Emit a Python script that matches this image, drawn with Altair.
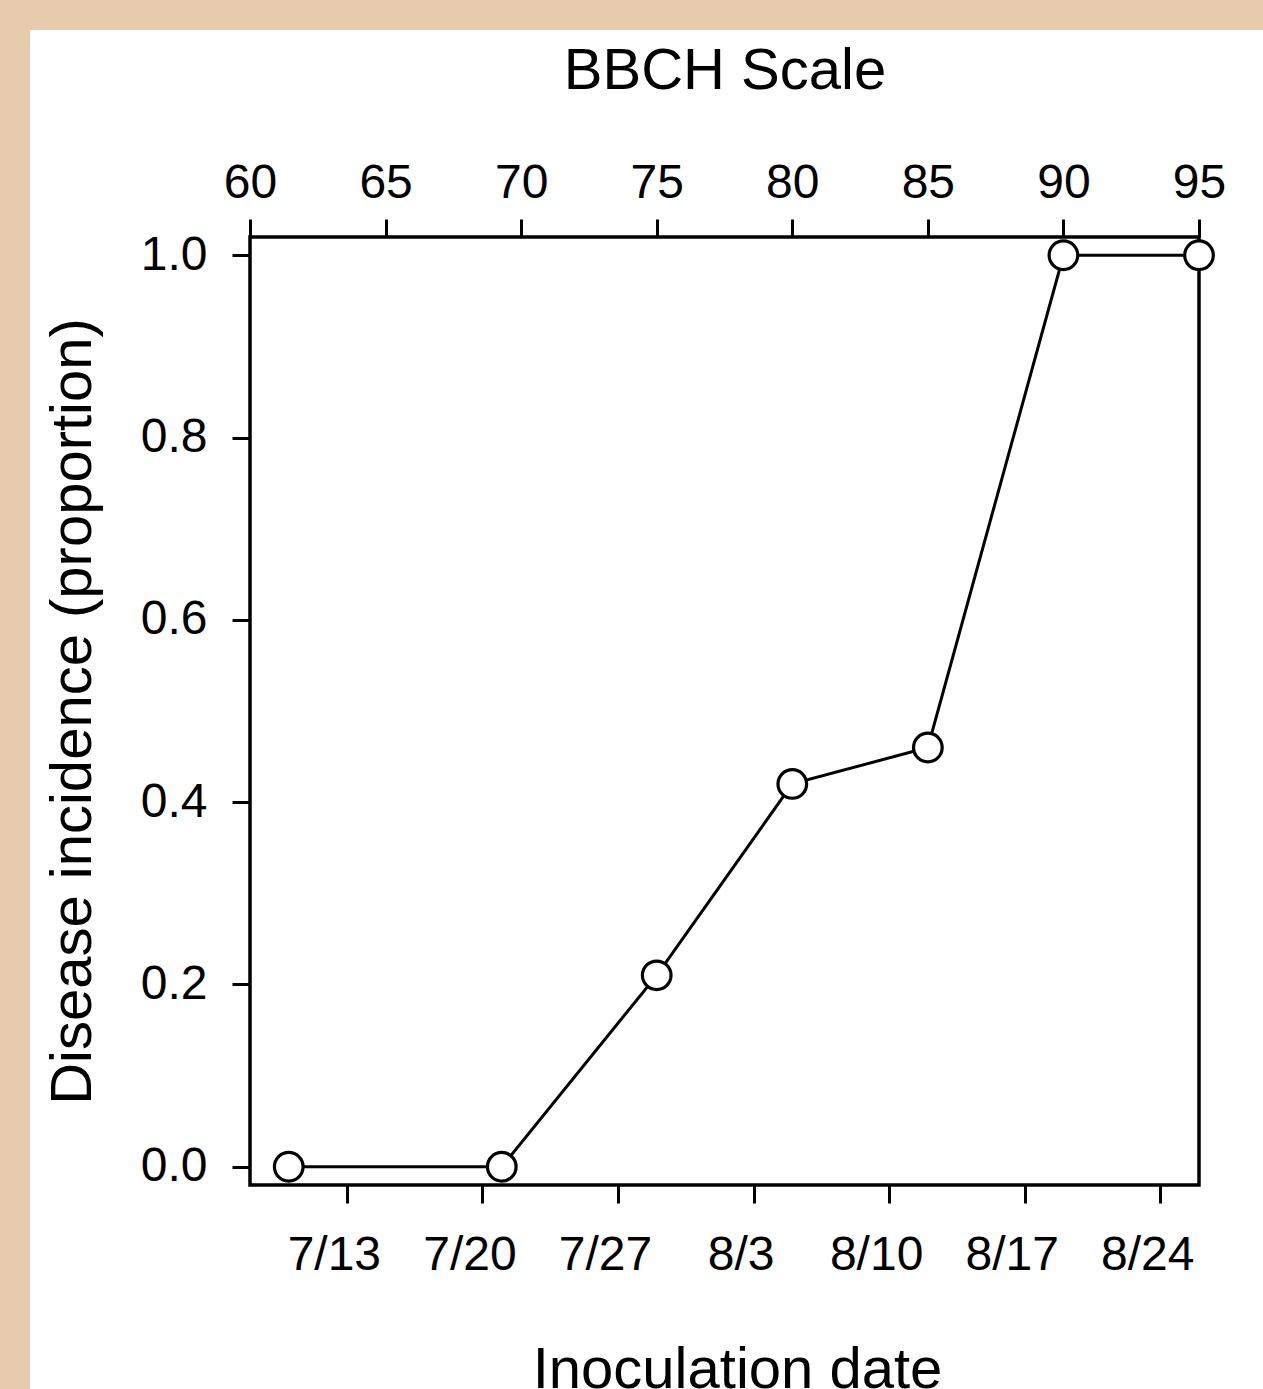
import altair as alt
import pandas as pd

# ---- data ----
dates = ["2019-07-10", "2019-07-21", "2019-07-29", "2019-08-05",
         "2019-08-12", "2019-08-19", "2019-08-26"]
incidence = [0.0, 0.0, 0.21, 0.42, 0.46, 1.0, 1.0]
date_ticks = ["7/13", "7/20", "7/27", "8/3", "8/10", "8/17", "8/24"]
date_domain = ["7/8", "8/26"]
bbch_ticks = [60, 65, 70, 75, 80, 85, 90, 95]
y_ticks = [0.0, 0.2, 0.4, 0.6, 0.8, 1.0]
YEAR = 2019

FONT = "Liberation Sans"
BEIGE = "#e6cbad"
W, H = 949, 948
PAD = {"left": 250, "top": 237, "right": 64, "bottom": 204}


def dt(s, hours=0, minutes=0):
    m, d = map(int, s.split("/"))
    return alt.DateTime(year=YEAR, month=m, date=d, hours=hours, minutes=minutes)


df = pd.DataFrame({"date": pd.to_datetime(dates), "incidence": incidence})
tick_df = pd.DataFrame({"tick": pd.to_datetime([f"{YEAR}-{s.replace('/', '-')}" for s in date_ticks])})
top_df = pd.DataFrame({"bbch": bbch_ticks})
one = pd.DataFrame({"a": [0]})

common_axis = dict(
    domain=False, grid=False, ticks=True, tickSize=18, tickWidth=3,
    tickColor="black", labelColor="black", labelFont=FONT,
    labelFontSize=48, titleFont=FONT, titleFontSize=58,
    titleFontWeight="normal", titleColor="black",
    labelFlush=False, labelOverlap=False,
)

data_layer = alt.Chart(df).mark_line(
    color="black", strokeWidth=3,
    point=alt.OverlayMarkDef(filled=True, fill="white", stroke="black",
                             strokeWidth=3.2, size=820, opacity=1),
).encode(
    x=alt.X("date:T",
            scale=alt.Scale(domain=[dt(date_domain[0]), dt(date_domain[1])], nice=False),
            axis=alt.Axis(orient="bottom", values=[dt(s) for s in date_ticks],
                          labels=False, title="Inoculation date",
                          titleX=487, titleY=202, titleAlign="center",
                          titleBaseline="alphabetic", **common_axis)),
    y=alt.Y("incidence:Q",
            scale=alt.Scale(domain=[-0.02, 1.02], nice=False, zero=False),
            axis=alt.Axis(values=y_ticks, format=".1f",
                          title="Disease incidence (proportion)",
                          labelPadding=25, labelAlign="right", labelBaseline="middle",
                          titleAngle=270, titleX=-160, titleY=H / 2,
                          titleAlign="center", titleBaseline="alphabetic",
                          **common_axis)),
)

# date labels sit ~13px left of their ticks in the reference
label_layer = alt.Chart(tick_df).mark_point(opacity=0).encode(
    x=alt.X("tick:T",
            scale=alt.Scale(domain=[dt(date_domain[0], 16, 7), dt(date_domain[1], 16, 7)],
                            nice=False),
            axis=alt.Axis(orient="bottom", values=[dt(s) for s in date_ticks],
                          format="%-m/%-d", title=None, tickOpacity=0,
                          labelPadding=66, labelBaseline="alphabetic",
                          **common_axis)),
    y=alt.value(0),
)

top_layer = alt.Chart(top_df).mark_point(opacity=0).encode(
    x=alt.X("bbch:Q",
            scale=alt.Scale(domain=[60, 95], nice=False, zero=False),
            axis=alt.Axis(orient="top", values=bbch_ticks, format="d",
                          title="BBCH Scale", labelPadding=22,
                          labelBaseline="alphabetic",
                          titleX=W / 2, titleY=-149, titleAlign="center",
                          titleBaseline="alphabetic", **common_axis)),
    y=alt.value(0),
)

strip_left = alt.Chart(one).mark_rect(color=BEIGE).encode(
    x=alt.value(-PAD["left"]), x2=alt.value(-PAD["left"] + 30),
    y=alt.value(-PAD["top"]), y2=alt.value(H + PAD["bottom"]),
)
strip_top = alt.Chart(one).mark_rect(color=BEIGE).encode(
    x=alt.value(-PAD["left"]), x2=alt.value(W + PAD["right"]),
    y=alt.value(-PAD["top"]), y2=alt.value(-PAD["top"] + 30),
)

chart = alt.layer(strip_left, strip_top, data_layer, label_layer, top_layer).resolve_scale(
    x="independent"
).properties(
    width=W, height=H,
    autosize=alt.AutoSizeParams(type="none"),
    padding=PAD,
    background="white",
).configure_view(stroke="black", strokeWidth=3.5)

chart.save("out.html", embed_options={"renderer": "svg", "actions": False})
